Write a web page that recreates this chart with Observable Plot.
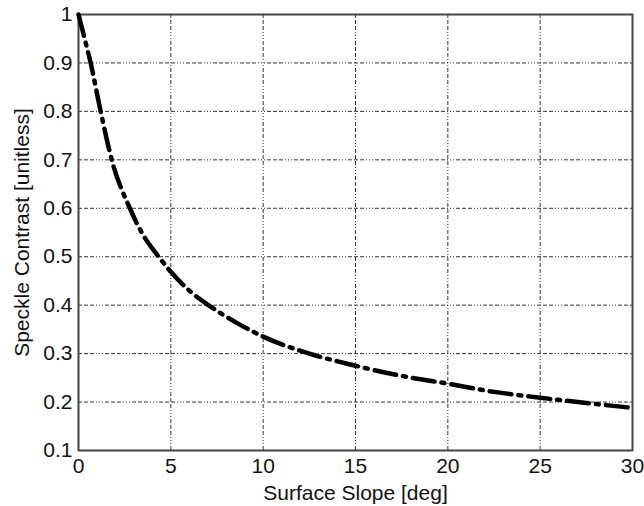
<!DOCTYPE html>
<html>
<head>
<meta charset="utf-8">
<script src="https://cdn.jsdelivr.net/npm/d3@7"></script>
<script src="https://cdn.jsdelivr.net/npm/@observablehq/plot@0.6"></script>
<style>
  html, body { margin: 0; padding: 0; background: #fff; }
  #chart svg { display: block; }
</style>
</head>
<body>
<div id="chart"></div>
<script>
// Surface slope [deg] (x) and speckle contrast (y)
const slope    = [0, 0.3, 0.66, 1.2, 1.8, 2.78, 3.5, 4.34, 5, 6, 7.04, 8.5, 10, 12.5, 15, 17.5, 20, 22.5, 25, 27.5, 30];
const contrast = [1.0, 0.955, 0.9, 0.8, 0.7, 0.6, 0.545, 0.5, 0.469, 0.43, 0.4, 0.365, 0.335, 0.3, 0.275, 0.254, 0.238, 0.221, 0.209, 0.198, 0.188];
const xTicks = [0, 5, 10, 15, 20, 25, 30];
const yTicks = [0.1, 0.2, 0.3, 0.4, 0.5, 0.6, 0.7, 0.8, 0.9, 1];

const data = slope.map((s, i) => ({x: s, y: contrast[i]}));
const gridDash = "4,2,4,2,4,2,1,2,1,2,1,2";

const chart = Plot.plot({
  width: 644,
  height: 506,
  marginLeft: 78,
  marginRight: 12,
  marginTop: 14,
  marginBottom: 56,
  style: {fontFamily: "'Liberation Sans', Arial, sans-serif", fontSize: "21px", color: "#111", background: "#fff"},
  x: {domain: [0, 30]},
  y: {domain: [0.1, 1]},
  marks: [
    Plot.gridX(xTicks, {stroke: "#333", strokeOpacity: 1, strokeWidth: 1, strokeDasharray: gridDash}),
    Plot.gridY(yTicks, {stroke: "#333", strokeOpacity: 1, strokeWidth: 1, strokeDasharray: gridDash}),
    Plot.axisX(xTicks, {tickSize: 0, tickPadding: 8, fontSize: 21, tickFormat: d => String(d),
      label: "Surface Slope [deg]", labelAnchor: "center", labelArrow: "none", labelOffset: 49}),
    Plot.axisY(yTicks, {tickSize: 0, tickPadding: 6, fontSize: 21, tickFormat: d => String(d),
      label: "Speckle Contrast [unitless]", labelAnchor: "center", labelArrow: "none", labelOffset: 64}),
    Plot.frame({stroke: "#444", strokeWidth: 2}),
    Plot.line(data, {x: "x", y: "y", stroke: "#000", strokeWidth: 4.5, strokeDasharray: "22,7,3,7", curve: "monotone-x"})
  ]
});
document.getElementById("chart").appendChild(chart);
</script>
</body>
</html>
